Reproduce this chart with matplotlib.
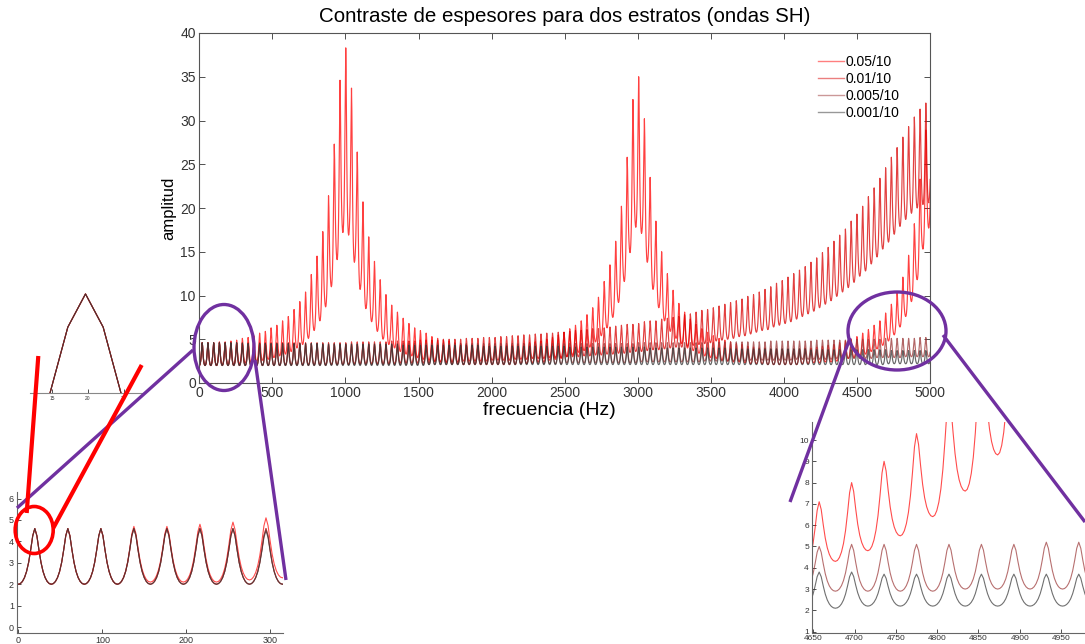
import numpy as np
import matplotlib
matplotlib.use('Agg')
import matplotlib.pyplot as plt
from matplotlib.patches import Ellipse

plt.rcParams['font.family'] = ['Liberation Sans', 'DejaVu Sans']

# amplitude of every peak / trough of the ~39.3 Hz oscillation
period_hz = 39.3
# one rising half-period (trough -> peak), 8 sample steps, normalised
rise_shape = [0.0, 0.012, 0.05, 0.119, 0.228, 0.391, 0.617, 0.871, 1.0]

labels = ['0.05/10', '0.01/10', '0.005/10', '0.001/10']
colors = ['#ff0000', '#d90000', '#993333', '#333333']

peak_a = [4.6, 4.6, 4.6, 4.7, 4.7, 4.8, 4.9, 5.1, 5.2, 5.4,
          5.7, 5.9, 6.3, 6.6, 7.1, 7.6, 8.4, 9.3, 10.4, 12.4,
          14.5, 17.3, 21.4, 27.3, 34.6, 38.3, 33.7, 26.4, 20.7, 16.7,
          13.9, 11.8, 10.1, 8.9, 8.1, 7.4, 6.8, 6.3, 6.0, 5.7,
          5.3, 5.1, 4.9, 4.8, 4.6, 4.5, 4.4, 4.3, 4.3, 4.2,
          4.2, 4.2, 4.2, 4.3, 4.3, 4.4, 4.5, 4.6, 4.7, 4.8,
          5.0, 5.2, 5.5, 5.8, 6.2, 6.6, 7.1, 7.8, 8.6, 9.8,
          11.6, 13.5, 16.2, 20.2, 25.8, 32.4, 35.0, 30.2, 23.5, 18.5,
          15.0, 12.5, 10.6, 9.1, 8.1, 7.3, 6.7, 6.2, 5.8, 5.4,
          5.1, 4.9, 4.7, 4.5, 4.4, 4.2, 4.1, 4.0, 4.0, 3.9,
          3.9, 3.9, 3.9, 3.9, 3.9, 4.0, 4.0, 4.1, 4.2, 4.3,
          4.4, 4.6, 4.8, 5.0, 5.3, 5.7, 6.1, 6.6, 7.1, 8.0,
          9.0, 10.3, 12.1, 14.6, 18.2, 23.3, 28.9, 30.5]
trough_a = [2.0, 2.0, 2.0, 2.0, 2.1, 2.1, 2.1, 2.2, 2.3, 2.4,
            2.5, 2.6, 2.7, 2.9, 3.1, 3.3, 3.6, 4.0, 4.4, 5.1,
            6.0, 7.1, 8.7, 11.0, 14.1, 17.2, 16.9, 13.8, 10.7, 8.5,
            7.0, 5.9, 5.0, 4.4, 4.0, 3.6, 3.3, 3.1, 2.9, 2.7,
            2.6, 2.5, 2.4, 2.3, 2.2, 2.2, 2.1, 2.1, 2.1, 2.1,
            2.1, 2.1, 2.1, 2.1, 2.1, 2.1, 2.2, 2.2, 2.3, 2.4,
            2.4, 2.6, 2.7, 2.8, 3.0, 3.2, 3.5, 3.7, 4.1, 4.7,
            5.4, 6.3, 7.5, 9.2, 11.6, 14.9, 17.8, 17.1, 13.8, 10.7,
            8.6, 7.1, 5.9, 5.1, 4.5, 4.0, 3.7, 3.4, 3.1, 2.9,
            2.8, 2.6, 2.5, 2.4, 2.4, 2.3, 2.2, 2.2, 2.2, 2.1,
            2.1, 2.1, 2.1, 2.1, 2.1, 2.2, 2.2, 2.3, 2.3, 2.4,
            2.4, 2.5, 2.6, 2.8, 2.9, 3.1, 3.3, 3.6, 3.9, 4.3,
            4.8, 5.5, 6.4, 7.6, 9.3, 11.8, 15.3, 17.7]

peak_b = [4.6, 4.6, 4.6, 4.6, 4.6, 4.6, 4.6, 4.6, 4.6, 4.6,
          4.6, 4.6, 4.6, 4.6, 4.6, 4.6, 4.6, 4.6, 4.6, 4.6,
          4.6, 4.6, 4.6, 4.6, 4.6, 4.6, 4.7, 4.7, 4.7, 4.7,
          4.7, 4.7, 4.7, 4.8, 4.8, 4.8, 4.8, 4.8, 4.9, 4.9,
          4.9, 4.9, 5.0, 5.0, 5.0, 5.0, 5.1, 5.1, 5.1, 5.2,
          5.2, 5.2, 5.3, 5.3, 5.4, 5.4, 5.5, 5.5, 5.6, 5.6,
          5.7, 5.7, 5.8, 5.8, 5.9, 6.0, 6.0, 6.1, 6.2, 6.2,
          6.3, 6.4, 6.5, 6.6, 6.7, 6.7, 6.8, 7.0, 7.1, 7.1,
          7.3, 7.4, 7.5, 7.6, 7.8, 7.9, 8.1, 8.3, 8.4, 8.6,
          8.8, 9.0, 9.2, 9.4, 9.6, 9.9, 10.1, 10.4, 10.7, 11.0,
          11.4, 11.7, 12.1, 12.5, 12.9, 13.3, 13.8, 14.3, 14.9, 15.5,
          16.2, 16.9, 17.6, 18.5, 19.3, 20.2, 21.3, 22.3, 23.4, 24.6,
          25.8, 26.9, 28.1, 29.3, 30.4, 31.3, 32.0, 32.3]
trough_b = [2.0, 2.0, 2.0, 2.0, 2.0, 2.0, 2.0, 2.0, 2.0, 2.0,
            2.0, 2.0, 2.0, 2.0, 2.0, 2.1, 2.1, 2.1, 2.1, 2.1,
            2.1, 2.1, 2.1, 2.1, 2.1, 2.1, 2.1, 2.2, 2.2, 2.2,
            2.2, 2.2, 2.2, 2.2, 2.2, 2.3, 2.3, 2.3, 2.3, 2.3,
            2.3, 2.4, 2.4, 2.4, 2.4, 2.4, 2.5, 2.5, 2.5, 2.5,
            2.5, 2.6, 2.6, 2.6, 2.6, 2.7, 2.7, 2.7, 2.8, 2.8,
            2.8, 2.9, 2.9, 2.9, 3.0, 3.0, 3.0, 3.1, 3.1, 3.2,
            3.2, 3.3, 3.3, 3.4, 3.4, 3.5, 3.6, 3.6, 3.7, 3.8,
            3.8, 3.9, 4.0, 4.1, 4.1, 4.2, 4.3, 4.4, 4.5, 4.6,
            4.8, 4.9, 5.0, 5.1, 5.3, 5.4, 5.6, 5.8, 6.0, 6.1,
            6.4, 6.6, 6.8, 7.0, 7.3, 7.6, 7.9, 8.2, 8.6, 9.0,
            9.4, 9.9, 10.4, 10.9, 11.5, 12.2, 12.8, 13.6, 14.4, 15.3,
            16.1, 17.0, 17.9, 18.7, 19.4, 20.0, 20.4, 20.6]

peak_c = ([4.6] * 8 + [4.5] * 68 + [4.6] * 14 + [4.7] * 9 + [4.8] * 8
          + [4.9] * 7 + [5.0] * 5 + [5.1] * 6 + [5.2] * 3)
trough_c = ([2.0] * 23 + [2.1] * 24 + [2.2] * 17 + [2.3] * 13 + [2.4] * 11
            + [2.5] * 8 + [2.6] * 8 + [2.7] * 7 + [2.8] * 7 + [2.9] * 5 + [3.0] * 5)

peak_d = ([4.6] * 7 + [4.5] * 14 + [4.4] * 14 + [4.3] * 14 + [4.2] * 15
          + [4.1] * 14 + [4.0] * 14 + [3.9] * 14 + [3.8] * 14 + [3.7] * 8)
trough_d = [2.0] * 40 + [2.1] * 80 + [2.2] * 8


def build_curve(peaks, troughs):
    vals = []
    for n in range(len(peaks)):
        lo, hi = troughs[n], peaks[n]
        vals += [lo + (hi - lo) * s for s in rise_shape[:-1]]
        if n + 1 < len(troughs):
            nxt = troughs[n + 1]
            vals += [nxt + (hi - nxt) * s for s in rise_shape[:0:-1]]
        else:
            vals.append(hi)
    freq = np.arange(len(vals)) * period_hz / (2 * (len(rise_shape) - 1))
    return freq, np.array(vals)


curves = [build_curve(peak_a, trough_a), build_curve(peak_b, trough_b),
          build_curve(peak_c, trough_c), build_curve(peak_d, trough_d)]

W, H = 1085, 644
fig = plt.figure(figsize=(W / 100, H / 100), dpi=100)


def px_box(x0, y0, x1, y1):
    return [x0 / W, 1 - y1 / H, (x1 - x0) / W, (y1 - y0) / H]


def draw_curves(a, lw, alpha):
    for lab, col, (f, v) in zip(labels, colors, curves):
        a.plot(f, v, color=col, lw=lw, alpha=alpha, label=lab)


# main chart
ax = fig.add_axes(px_box(199.3, 33, 930, 383))
draw_curves(ax, 0.85, 0.75)
ax.set_xlim(0, 5000)
ax.set_ylim(0, 40)
ax.set_xticks(range(0, 5001, 500))
ax.set_yticks(range(0, 41, 5))
ax.tick_params(direction='in', top=True, right=True, length=4, width=0.6,
               labelsize=10, pad=2.5, colors='#333333')
for sp in ax.spines.values():
    sp.set_color('#555555')
    sp.set_linewidth(0.8)
ax.set_title('Contraste de espesores para dos estratos (ondas SH)', fontsize=14.8, pad=8)
ax.set_xlabel('frecuencia (Hz)', fontsize=14, labelpad=1)
ax.xaxis.set_label_coords(0.479, -0.055)
ax.set_ylabel('amplitud', fontsize=12, labelpad=3)
leg = ax.legend(loc='upper left', bbox_to_anchor=(0.847, 0.937), frameon=False, fontsize=10,
                handlelength=1.85, handletextpad=0.15, labelspacing=0.22,
                borderpad=0, borderaxespad=0)
for h in leg.get_lines():
    h.set_linewidth(1.0)
    h.set_alpha(0.5)


def inset_style(a, size):
    a.patch.set_alpha(0)
    a.spines['top'].set_visible(False)
    a.spines['right'].set_visible(False)
    for s in ('left', 'bottom'):
        a.spines[s].set_color('#666666')
        a.spines[s].set_linewidth(0.8)
    a.tick_params(direction='in', length=3, width=0.6, labelsize=size, pad=2,
                  colors='#333333')


# zoom on the start of the band
ax_l = fig.add_axes(px_box(16.7, 491.7, 283, 633.3))
draw_curves(ax_l, 0.8, 0.7)
ax_l.set_xlim(-1.9, 315)
ax_l.set_ylim(-0.29, 6.32)
ax_l.set_xticks([0, 100, 200, 300])
ax_l.set_yticks(range(0, 7))
inset_style(ax_l, 6.5)

# zoom on the end of the band
ax_r = fig.add_axes(px_box(811.7, 421.7, 1085, 632.5))
draw_curves(ax_r, 0.8, 0.7)
ax_r.set_xlim(4648, 4979)
ax_r.set_ylim(0.96, 10.86)
ax_r.set_xticks(range(4650, 4951, 50))
ax_r.set_yticks(range(1, 11))
inset_style(ax_r, 6)

# tiny zoom on the first peak
ax_m = fig.add_axes(px_box(30, 285, 143, 393))
draw_curves(ax_m, 0.8, 0.8)
ax_m.set_xlim(11.94, 27.64)
ax_m.set_ylim(3.6, 4.69)
ax_m.set_xticks([15, 20, 25])
ax_m.set_yticks([])
inset_style(ax_m, 3.5)
ax_m.spines['left'].set_visible(False)
ax_m.spines['bottom'].set_color('#888888')

# hand-drawn call-outs
ov = fig.add_axes([0, 0, 1, 1])
ov.set_xlim(0, W)
ov.set_ylim(H, 0)
ov.axis('off')
ov.patch.set_alpha(0)
purple = '#7030a0'
ov.add_patch(Ellipse((224, 347.5), 60, 86, fill=False, ec=purple, lw=2.4))
ov.add_patch(Ellipse((897, 331), 98, 78, fill=False, ec=purple, lw=2.4))
ov.plot([193, 17], [350, 508], color=purple, lw=2.4, solid_capstyle='butt')
ov.plot([255, 286], [360, 580], color=purple, lw=2.4, solid_capstyle='butt')
ov.plot([850, 790], [338, 502], color=purple, lw=2.4, solid_capstyle='butt')
ov.plot([943, 1085], [335, 522], color=purple, lw=2.4, solid_capstyle='butt')
ov.add_patch(Ellipse((34.2, 530), 38, 47, fill=False, ec='red', lw=2.6))
ov.plot([38.3, 26.7], [356, 513], color='red', lw=3, solid_capstyle='butt')
ov.plot([141.7, 53.3], [365, 528], color='red', lw=3, solid_capstyle='butt')

fig.savefig('out.png', dpi=100)
